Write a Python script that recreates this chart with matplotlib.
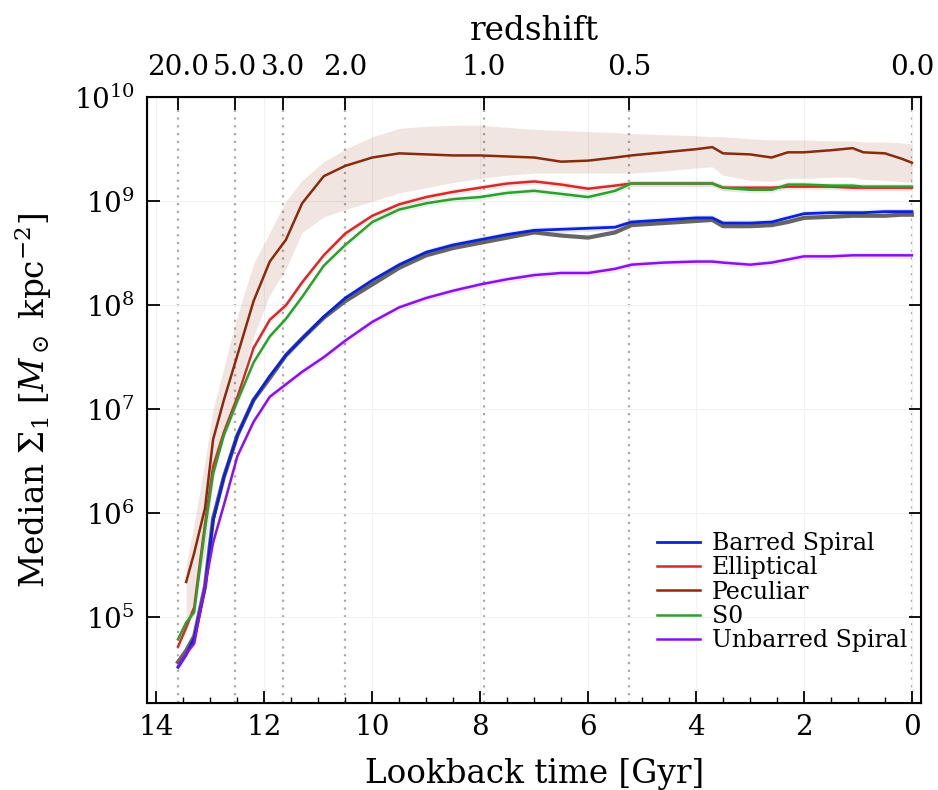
import numpy as np
import matplotlib
matplotlib.use("Agg")
import matplotlib.pyplot as plt

plt.rcParams['font.family'] = 'DejaVu Serif'
plt.rcParams['mathtext.fontset'] = 'dejavuserif'

# lookback time grid [Gyr] and log10 of median Sigma_1
lookback = [13.6, 13.45, 13.3, 13.1, 12.95, 12.75, 12.5, 12.2, 11.9, 11.6, 11.3, 10.9,
            10.5, 10.0, 9.5, 9.0, 8.5, 8.0, 7.5, 7.0, 6.5, 6.0, 5.5, 5.2, 4.6, 4.0,
            3.7, 3.5, 3.0, 2.6, 2.3, 2.0, 1.5, 1.1, 0.9, 0.5, 0.2, 0.0]

barred = [4.52, 4.64, 4.80, 5.28, 5.93, 6.35, 6.75, 7.09, 7.32, 7.52, 7.68, 7.89,
          8.07, 8.24, 8.39, 8.51, 8.58, 8.63, 8.68, 8.72, 8.73, 8.74, 8.75, 8.80, 8.82, 8.84,
          8.84, 8.79, 8.79, 8.80, 8.84, 8.88, 8.89, 8.89, 8.89, 8.90, 8.90, 8.90]
elliptical = [4.72, 4.90, 5.10, 5.90, 6.45, 6.78, 7.12, 7.59, 7.86, 8.00, 8.22, 8.48,
              8.69, 8.86, 8.97, 9.04, 9.09, 9.13, 9.17, 9.19, 9.16, 9.12, 9.15, 9.17, 9.17, 9.17,
              9.17, 9.13, 9.13, 9.13, 9.14, 9.14, 9.14, 9.13, 9.13, 9.13, 9.13, 9.13]
peculiar = [np.nan, 5.34, 5.62, 6.05, 6.71, 7.09, 7.52, 8.04, 8.42, 8.63, 8.98, 9.24,
            9.34, 9.42, 9.46, 9.45, 9.44, 9.44, 9.43, 9.42, 9.38, 9.39, 9.42, 9.44, 9.47, 9.50,
            9.52, 9.46, 9.45, 9.42, 9.47, 9.47, 9.49, 9.51, 9.47, 9.46, 9.41, 9.37]
s0 = [4.79, 4.95, 5.05, 5.85, 6.38, 6.75, 7.08, 7.45, 7.70, 7.87, 8.08, 8.38,
      8.58, 8.80, 8.92, 8.98, 9.02, 9.04, 9.08, 9.10, 9.07, 9.04, 9.10, 9.17, 9.17, 9.17,
      9.17, 9.13, 9.11, 9.11, 9.16, 9.16, 9.15, 9.15, 9.14, 9.14, 9.14, 9.14]
unbarred = [4.53, 4.65, 4.75, 5.30, 5.72, 6.08, 6.55, 6.88, 7.12, 7.24, 7.36, 7.50,
            7.66, 7.84, 7.98, 8.07, 8.14, 8.20, 8.25, 8.29, 8.31, 8.31, 8.35, 8.39, 8.41, 8.42,
            8.42, 8.41, 8.39, 8.41, 8.44, 8.47, 8.47, 8.48, 8.48, 8.48, 8.48, 8.48]
all_gal = [4.57, 4.68, 4.82, 5.30, 5.95, 6.35, 6.75, 7.09, 7.30, 7.52, 7.68, 7.88,
           8.04, 8.20, 8.36, 8.48, 8.55, 8.60, 8.65, 8.70, 8.67, 8.65, 8.70, 8.77, 8.79, 8.81,
           8.82, 8.76, 8.76, 8.77, 8.80, 8.84, 8.85, 8.86, 8.86, 8.86, 8.87, 8.87]

# scatter band of the peculiar sample
pec_hi = [np.nan, 5.5, 5.9, 6.5, 7.0, 7.4, 7.9, 8.4, 8.7, 9.0, 9.2, 9.38,
          9.5, 9.62, 9.70, 9.72, 9.73, 9.73, 9.71, 9.69, 9.68, 9.67, 9.66, 9.65, 9.64, 9.63,
          9.62, 9.62, 9.60, 9.59, 9.59, 9.59, 9.58, 9.58, 9.57, 9.57, 9.56, 9.55]
pec_lo = [np.nan, 4.9, 5.2, 5.6, 6.3, 6.8, 7.2, 7.7, 8.1, 8.35, 8.7, 8.85,
          8.92, 9.0, 9.08, 9.13, 9.18, 9.22, 9.25, 9.27, 9.27, 9.27, 9.27, 9.27, 9.29, 9.32,
          9.33, 9.25, 9.20, 9.19, 9.22, 9.22, 9.23, 9.23, 9.21, 9.20, 9.19, 9.18]

z_labels = ['20.0', '5.0', '3.0', '2.0', '1.0', '0.5', '0.0']
z_lookback = [13.6, 12.55, 11.65, 10.5, 7.93, 5.24, 0.0]

names = ['Barred Spiral', 'Elliptical', 'Peculiar', 'S0', 'Unbarred Spiral']
series = [barred, elliptical, peculiar, s0, unbarred]
colors = ['#0a22d8', '#d62a2a', '#8b2a0a', '#2ca02c', '#8a10ee']

t = np.array(lookback)

fig = plt.figure(figsize=(9.38, 7.9), dpi=100)
ax = fig.add_axes([0.157, 0.110, 0.825, 0.767])

ax.grid(True, which='major', color='#f2f2f2', lw=0.8)
for zt in z_lookback:
    ax.axvline(zt, color='#aaaaaa', ls=(0, (1, 2.5)), lw=1.6, zorder=1)

ax.fill_between(t, 10 ** np.array(pec_lo), 10 ** np.array(pec_hi),
                color='#8b2a0a', alpha=0.12, lw=0, zorder=2)
for vals, c in zip(series, colors):
    v = np.array(vals)
    if c != '#8b2a0a':
        ax.fill_between(t, 10 ** (v - 0.03), 10 ** (v + 0.03), color=c, alpha=0.1, lw=0, zorder=2)

ax.plot(t, 10 ** np.array(barred), color=colors[0], lw=2, label=names[0], zorder=4)
ax.plot(t, 10 ** np.array(all_gal), color='#555555', lw=3, alpha=0.9, zorder=3)
for vals, c, n in zip(series[1:], colors[1:], names[1:]):
    ax.plot(t, 10 ** np.array(vals), color=c, lw=1.8, label=n, zorder=4)

ax.set_yscale('log')
ax.set_xlim(14.17, -0.17)
ax.set_ylim(1.5e4, 1e10)
ax.set_xticks([14, 12, 10, 8, 6, 4, 2, 0])
ax.set_xticks(np.arange(0, 14.5, 0.5), minor=True)
ax.yaxis.set_minor_locator(matplotlib.ticker.NullLocator())
ax.tick_params(axis='both', which='major', direction='in', length=9, width=1.3,
               labelsize=20, right=True)
ax.tick_params(axis='x', which='major', pad=8)
ax.tick_params(axis='y', which='major', pad=9)
ax.tick_params(axis='x', which='minor', direction='in', length=4, width=1)
for s in ax.spines.values():
    s.set_linewidth(1.5)

ax.set_xlabel('Lookback time [Gyr]', fontsize=23.5, labelpad=12)
ax.set_ylabel(r'Median $\Sigma_1$ [$M_\odot$ kpc$^{-2}$]', fontsize=23.5, labelpad=14)

top = ax.twiny()
top.set_xlim(ax.get_xlim())
top.set_xticks(z_lookback)
top.set_xticklabels(z_labels)
top.tick_params(axis='x', direction='in', length=9, width=1.3, labelsize=20, pad=12)
top.set_xlabel('redshift', fontsize=23.5, labelpad=10)

ax.legend(loc='lower right', frameon=False, fontsize=17, handlelength=1.8,
          handletextpad=0.5, labelspacing=0.05, borderaxespad=0.2,
          bbox_to_anchor=(1.0, 0.061))

fig.savefig('out.png', dpi=100)
